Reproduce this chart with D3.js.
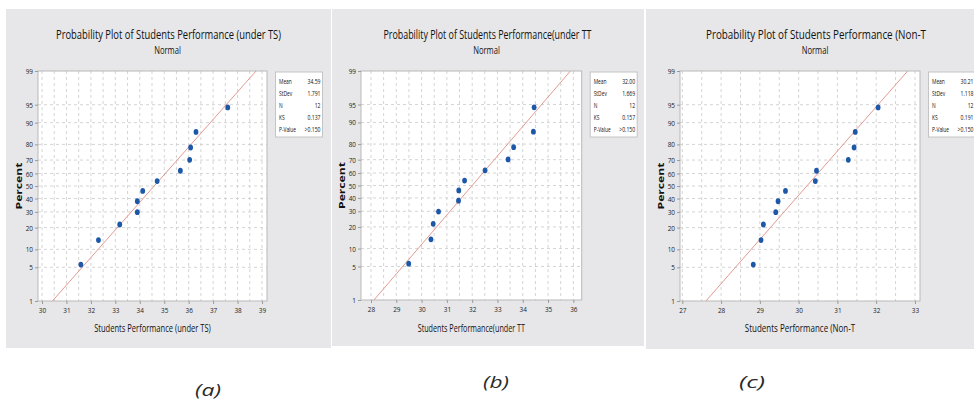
<!DOCTYPE html>
<html>
<head>
<meta charset="utf-8">
<script src="https://cdn.jsdelivr.net/npm/d3@7"></script>
<style>
body { margin: 0; background: #fff; }
svg { display: block; font-family: 'Open Sans', sans-serif; }
</style>
</head>
<body>
<svg width="974" height="401"></svg>
<script>
// values
const percentTicks = [1, 5, 10, 20, 30, 40, 50, 60, 70, 80, 90, 95, 99];
const plotPercents = [5.6, 13.7, 21.8, 29.8, 37.9, 46.0, 54.0, 62.1, 70.2, 78.2, 86.3, 94.4];
const scoresTS = [31.59, 32.31, 33.18, 33.90, 33.90, 34.12, 34.71, 35.66, 36.04, 36.08, 36.30, 37.60];
const scoresTT = [29.49, 30.37, 30.46, 30.67, 31.46, 31.47, 31.70, 32.51, 33.42, 33.64, 34.42, 34.45];
const scoresNT = [28.83, 29.03, 29.09, 29.41, 29.47, 29.66, 30.43, 30.46, 31.28, 31.43, 31.46, 32.05];
const xTicksTS = [30, 31, 32, 33, 34, 35, 36, 37, 38, 39];
const xTicksTT = [28, 29, 30, 31, 32, 33, 34, 35, 36];
const xTicksNT = [27, 28, 29, 30, 31, 32, 33];
const titles = [
    'Probability Plot of Students Performance (under TS)',
    'Probability Plot of Students Performance(under TT',
    'Probability Plot of Students Performance (Non-T'
];
const xLabels = [
    'Students Performance (under TS)',
    'Students Performance(under TT',
    'Students Performance (Non-T'
];
const means = [34.59, 32.00, 30.21];
const stDevs = [1.791, 1.669, 1.118];
const counts = [12, 12, 12];
const ksStats = [0.137, 0.157, 0.191];
const pValues = ['>0.150', '>0.150', '>0.150'];
const captions = ['(a)', '(b)', '(c)'];

const scores = [scoresTS, scoresTT, scoresNT];
const xTicks = [xTicksTS, xTicksTT, xTicksNT];

// where each panel sits on the page
const layout = [
    {bg: [6, 9, 325, 339], plot: [38, 71, 267, 301], xDomain: [29.836, 39.205],
        titleX: 168.5, titleW: 225, labelW: 116.7, caption: [208, 396]},
    {bg: [332, 9, 312, 337], plot: [361, 71, 581.7, 300], xDomain: [27.605, 36.33],
        titleX: 487.5, titleW: 208, labelW: 107.3, caption: [496, 388]},
    {bg: [646, 9, 340, 340], plot: [680, 71, 920, 301], xDomain: [26.94, 33.13],
        titleX: 816, titleW: 220, labelW: 110.3, caption: [752, 388]}
];

const dotColor = '#1d58a8';
const lineColor = '#e39a92';
const gridColor = '#d4d4d4';
const ink = '#111';

// inverse normal cdf (Acklam)
function probit(p) {
    const a = [-3.969683028665376e+01, 2.209460984245205e+02, -2.759285104469687e+02, 1.383577518672690e+02, -3.066479806614716e+01, 2.506628277459239e+00];
    const b = [-5.447609879822406e+01, 1.615858368580409e+02, -1.556989798598866e+02, 6.680131188771972e+01, -1.328068155288572e+01];
    const c = [-7.784894002430293e-03, -3.223964580411365e-01, -2.400758277161838e+00, -2.549732539343734e+00, 4.374664141464968e+00, 2.938163982698783e+00];
    const d = [7.784695709041462e-03, 3.224671290700398e-01, 2.445134137142996e+00, 3.754408661907416e+00];
    const tail = q => (((((c[0] * q + c[1]) * q + c[2]) * q + c[3]) * q + c[4]) * q + c[5]) /
        ((((d[0] * q + d[1]) * q + d[2]) * q + d[3]) * q + 1);
    if (p < 0.02425) return tail(Math.sqrt(-2 * Math.log(p)));
    if (p > 1 - 0.02425) return -tail(Math.sqrt(-2 * Math.log(1 - p)));
    const q = p - 0.5, r = q * q;
    return (((((a[0] * r + a[1]) * r + a[2]) * r + a[3]) * r + a[4]) * r + a[5]) * q /
        (((((b[0] * r + b[1]) * r + b[2]) * r + b[3]) * r + b[4]) * r + 1);
}

// the source fonts are very narrow, so squeeze the text
function squeeze(sel, k) {
    sel.each(function() {
        const w = this.getComputedTextLength();
        d3.select(this).attr('textLength', w * k).attr('lengthAdjust', 'spacingAndGlyphs');
    });
}
function fit(sel, w) {
    sel.attr('textLength', w).attr('lengthAdjust', 'spacingAndGlyphs');
}

const svg = d3.select('svg');

layout.forEach((L, i) => drawPanel(L, i));

function drawPanel(L, i) {
    const [x0, y0, x1, y1] = L.plot;
    const g = svg.append('g');

    g.append('rect')
        .attr('x', L.bg[0]).attr('y', L.bg[1])
        .attr('width', L.bg[2]).attr('height', L.bg[3])
        .attr('fill', '#e7e7e9');

    const x = d3.scaleLinear().domain(L.xDomain).range([x0, x1]);
    const y = d3.scaleLinear().domain([probit(0.01), probit(0.99)]).range([y1, y0]);
    const yp = p => y(probit(p / 100));

    g.append('rect')
        .attr('x', x0).attr('y', y0)
        .attr('width', x1 - x0).attr('height', y1 - y0)
        .attr('fill', '#fff');

    // grid: every half unit across, every tick down
    const halfSteps = d3.range(Math.ceil(L.xDomain[0] * 2) / 2, L.xDomain[1], 0.5);
    g.append('g').selectAll('line')
        .data(halfSteps)
        .join('line')
            .attr('x1', d => x(d)).attr('x2', d => x(d))
            .attr('y1', y0).attr('y2', y1)
            .attr('stroke', gridColor)
            .attr('stroke-dasharray', '3,3');
    g.append('g').selectAll('line')
        .data(percentTicks.slice(1, -1))
        .join('line')
            .attr('x1', x0).attr('x2', x1)
            .attr('y1', d => yp(d)).attr('y2', d => yp(d))
            .attr('stroke', gridColor)
            .attr('stroke-dasharray', '3,3');

    g.append('rect')
        .attr('x', x0).attr('y', y0)
        .attr('width', x1 - x0).attr('height', y1 - y0)
        .attr('fill', 'none')
        .attr('stroke', '#b9b9b9');

    // axes
    const xAxis = g.append('g')
        .attr('transform', `translate(0,${y1})`)
        .call(d3.axisBottom(x)
            .tickValues(xTicks[i])
            .tickFormat(d3.format('d'))
            .tickSize(3).tickPadding(3));
    const yAxis = g.append('g')
        .attr('transform', `translate(${x0},0)`)
        .call(d3.axisLeft(y)
            .tickValues(percentTicks.map(p => probit(p / 100)))
            .tickFormat((_, j) => percentTicks[j])
            .tickSize(3).tickPadding(2));
    [xAxis, yAxis].forEach(ax => {
        ax.select('.domain').remove();
        ax.selectAll('line').attr('stroke', '#9a9a9a');
        ax.selectAll('text')
            .attr('fill', '#222')
            .style('font-size', '8px')
            .style('font-family', "'Open Sans', sans-serif");
        squeeze(ax.selectAll('text'), 0.8);
    });

    // fitted normal line
    const fitLine = d3.line()
        .x(p => x(means[i] + stDevs[i] * probit(p / 100)))
        .y(p => yp(p));
    g.append('path')
        .datum([1, 99])
        .attr('d', fitLine)
        .attr('fill', 'none')
        .attr('stroke', lineColor)
        .attr('stroke-width', 1);

    g.append('g').selectAll('ellipse')
        .data(scores[i])
        .join('ellipse')
            .attr('cx', d => x(d))
            .attr('cy', (_, j) => yp(plotPercents[j]))
            .attr('rx', 2.4)
            .attr('ry', 2.9)
            .attr('fill', dotColor);

    // titles and labels
    g.append('text')
        .attr('x', L.titleX).attr('y', 38.5)
        .attr('text-anchor', 'middle')
        .style('font-size', '13px')
        .attr('fill', ink)
        .text(titles[i])
        .call(fit, L.titleW);
    g.append('text')
        .attr('x', L.titleX - 1).attr('y', 54)
        .attr('text-anchor', 'middle')
        .style('font-size', '10px')
        .attr('fill', ink)
        .text('Normal')
        .call(fit, 26.7);
    g.append('text')
        .attr('x', (x0 + x1) / 2).attr('y', 332)
        .attr('text-anchor', 'middle')
        .style('font-size', '11.5px')
        .attr('fill', ink)
        .text(xLabels[i])
        .call(fit, L.labelW);
    g.append('text')
        .attr('transform', `translate(${x0 - 16},${(y0 + y1) / 2}) rotate(-90)`)
        .attr('text-anchor', 'middle')
        .style('font-size', '9px')
        .style('font-weight', 'bold')
        .attr('fill', ink)
        .text('Percent')
        .call(fit, 47);

    // stats box
    const bx = x1 + 8.5;
    const box = g.append('g').attr('transform', `translate(${bx},72)`);
    box.append('rect')
        .attr('width', 47).attr('height', 65)
        .attr('fill', '#fff')
        .attr('stroke', '#c4c4c4');
    const rows = [
        ['Mean', d3.format('.2f')(means[i])],
        ['StDev', d3.format('.3f')(stDevs[i])],
        ['N', counts[i]],
        ['KS', d3.format('.3f')(ksStats[i])],
        ['P-Value', pValues[i]]
    ];
    const row = box.selectAll('g.row')
        .data(rows)
        .join('g')
            .classed('row', true)
            .attr('transform', (_, j) => `translate(0,${11.5 + j * 12})`);
    row.append('text')
        .attr('x', 3.5)
        .style('font-size', '7.5px')
        .attr('fill', ink)
        .text(d => d[0])
        .call(squeeze, 0.65);
    row.append('text')
        .attr('x', 45)
        .attr('text-anchor', 'end')
        .style('font-size', '7.5px')
        .attr('fill', ink)
        .text(d => d[1])
        .call(squeeze, 0.68);

    svg.append('text')
        .attr('x', L.caption[0]).attr('y', L.caption[1])
        .attr('text-anchor', 'middle')
        .style('font-size', '17px')
        .style('font-style', 'italic')
        .attr('fill', '#2a2a2a')
        .text(captions[i])
        .call(fit, 26);
}
</script>
</body>
</html>
